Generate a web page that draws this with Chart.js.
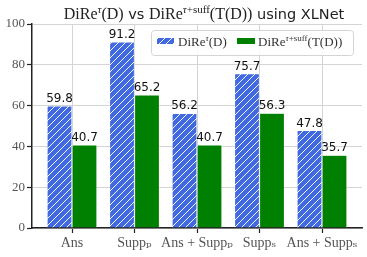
<!DOCTYPE html>
<html>
<head>
<meta charset="utf-8">
<script src="https://cdn.jsdelivr.net/npm/chart.js@4/dist/chart.umd.min.js"></script>
<style>
html,body{margin:0;padding:0;background:#fff;}
#wrap{width:367px;height:257px;}
</style>
</head>
<body>
<div id="wrap"><canvas id="c" width="367" height="257"></canvas></div>
<script>
const categories = ["Ans", "Supp\u209A", "Ans + Supp\u209A", "Supp\u209B", "Ans + Supp\u209B"];
const direTau = [59.8, 91.2, 56.2, 75.7, 47.8];
const direSuff = [40.7, 65.2, 40.7, 56.3, 35.7];
const yTicks = [0, 20, 40, 60, 80, 100];

const SERIF = '"Liberation Serif", "DejaVu Serif", serif';
const SANS = '"DejaVu Sans", sans-serif';
const BLUE = '#4169E1';
const GREEN = '#008000';

function makeHatch() {
  const s = 7;
  const p = document.createElement('canvas');
  p.width = s; p.height = s;
  const g = p.getContext('2d');
  g.fillStyle = BLUE; g.fillRect(0, 0, s, s);
  g.strokeStyle = 'rgba(255,255,255,0.95)'; g.lineWidth = 1;
  g.beginPath();
  g.moveTo(-1, s + 1); g.lineTo(s + 1, -1);
  g.moveTo(-1, 1); g.lineTo(1, -1);
  g.moveTo(s - 1, s + 1); g.lineTo(s + 1, s - 1);
  g.stroke();
  return document.getElementById('c').getContext('2d').createPattern(p, 'repeat');
}
const hatch = makeHatch();

function drawRuns(ctx, runs, cx, y, align) {
  let total = 0;
  runs.forEach(r => { ctx.font = r.font; r.w = ctx.measureText(r.t).width; total += r.w; });
  let x = align === 'left' ? cx : cx - total / 2;
  ctx.textBaseline = 'alphabetic';
  ctx.textAlign = 'left';
  runs.forEach(r => { ctx.font = r.font; ctx.fillStyle = r.color || '#222'; ctx.fillText(r.t, x, y - (r.dy || 0)); x += r.w; });
  return total;
}

const decor = {
  id: 'decor',
  afterDatasetsDraw(chart) {
    const ctx = chart.ctx;
    ctx.save();
    // value labels
    ctx.font = '12px ' + SANS;
    ctx.fillStyle = '#111';
    ctx.textAlign = 'center';
    ctx.textBaseline = 'bottom';
    chart.data.datasets.forEach((ds, di) => {
      chart.getDatasetMeta(di).data.forEach((bar, i) => {
        ctx.fillText(ds.data[i].y.toFixed(1), bar.x, bar.y - 1);
      });
    });
    // legend
    const lx = 151, ly = 30, lw = 202, lh = 25;
    ctx.fillStyle = 'rgba(255,255,255,0.85)';
    ctx.strokeStyle = '#d4d4d4';
    ctx.lineWidth = 1;
    ctx.beginPath();
    ctx.roundRect(lx + 0.5, ly + 0.5, lw, lh, 3);
    ctx.fill(); ctx.stroke();
    ctx.fillStyle = hatch;
    ctx.fillRect(157, 38, 17, 6);
    ctx.fillStyle = GREEN;
    ctx.fillRect(237, 38, 18, 6);
    const ls = 13, sup = 9;
    drawRuns(ctx, [
      {t: 'DiRe', font: ls + 'px ' + SERIF, color: '#333'},
      {t: '\u03C4', font: 'italic ' + sup + 'px ' + SERIF, dy: 5, color: '#333'},
      {t: '(D)', font: ls + 'px ' + SERIF, color: '#333'}
    ], 178, 46, 'left');
    drawRuns(ctx, [
      {t: 'DiRe', font: ls + 'px ' + SERIF, color: '#333'},
      {t: '\u03C4', font: 'italic ' + sup + 'px ' + SERIF, dy: 5, color: '#333'},
      {t: '+suff', font: sup + 'px ' + SERIF, dy: 5, color: '#333'},
      {t: '(T(D))', font: ls + 'px ' + SERIF, color: '#333'}
    ], 258, 46, 'left');
    // title
    const ts = 16, tsup = 11, tsans = 14.5;
    drawRuns(ctx, [
      {t: 'DiRe', font: ts + 'px ' + SERIF},
      {t: '\u03C4', font: 'italic ' + tsup + 'px ' + SERIF, dy: 6},
      {t: '(D)', font: ts + 'px ' + SERIF},
      {t: ' vs ', font: tsans + 'px ' + SANS},
      {t: 'DiRe', font: ts + 'px ' + SERIF},
      {t: '\u03C4', font: 'italic ' + tsup + 'px ' + SERIF, dy: 6},
      {t: '+suff', font: tsup + 'px ' + SERIF, dy: 6},
      {t: '(T(D))', font: ts + 'px ' + SERIF},
      {t: ' using XLNet', font: tsans + 'px ' + SANS}
    ], 204, 19, 'center');
    ctx.restore();
  }
};

const ds1 = direTau.map((v, i) => ({x: i, y: v}));
const ds2 = direSuff.map((v, i) => ({x: i, y: v}));

new Chart(document.getElementById('c'), {
  type: 'bar',
  data: {
    datasets: [
      {label: 'DiRe\u03C4(D)', data: ds1, backgroundColor: hatch, borderColor: '#ffffff', borderWidth: 0.6},
      {label: 'DiRe\u03C4+suff(T(D))', data: ds2, backgroundColor: GREEN, borderColor: '#ffffff', borderWidth: 0.6}
    ]
  },
  options: {
    responsive: false,
    animation: false,
    devicePixelRatio: 1,
    layout: {padding: {top: 24, right: 5, left: 0, bottom: 0}},
    datasets: {bar: {categoryPercentage: 0.8, barPercentage: 1.0}},
    plugins: {legend: {display: false}, title: {display: false}, tooltip: {enabled: false}},
    scales: {
      x: {
        type: 'linear',
        offset: false,
        min: -0.64, max: 4.64,
        afterBuildTicks: s => { s.ticks = categories.map((c, i) => ({value: i})); },
        afterFit: s => { s.height = 29; },
        ticks: {
          callback: v => categories[v],
          font: {family: SERIF, size: 14},
          color: '#555',
          padding: 2,
          maxRotation: 0, autoSkip: false
        },
        grid: {offset: false, color: '#d4d4d4', lineWidth: 1, tickColor: '#222', tickLength: 5, tickWidth: 1.2},
        border: {color: '#222', width: 1.5}
      },
      y: {
        min: 0, max: 100,
        afterBuildTicks: s => { s.ticks = yTicks.map(v => ({value: v})); },
        afterFit: s => { s.width = 32; },
        ticks: {
          font: {family: SERIF, size: 13},
          color: '#555',
          padding: 2
        },
        grid: {color: '#d4d4d4', lineWidth: 1, tickColor: '#222', tickLength: 5, tickWidth: 1.2},
        border: {color: '#222', width: 1.5}
      }
    }
  },
  plugins: [decor]
});
</script>
</body>
</html>
